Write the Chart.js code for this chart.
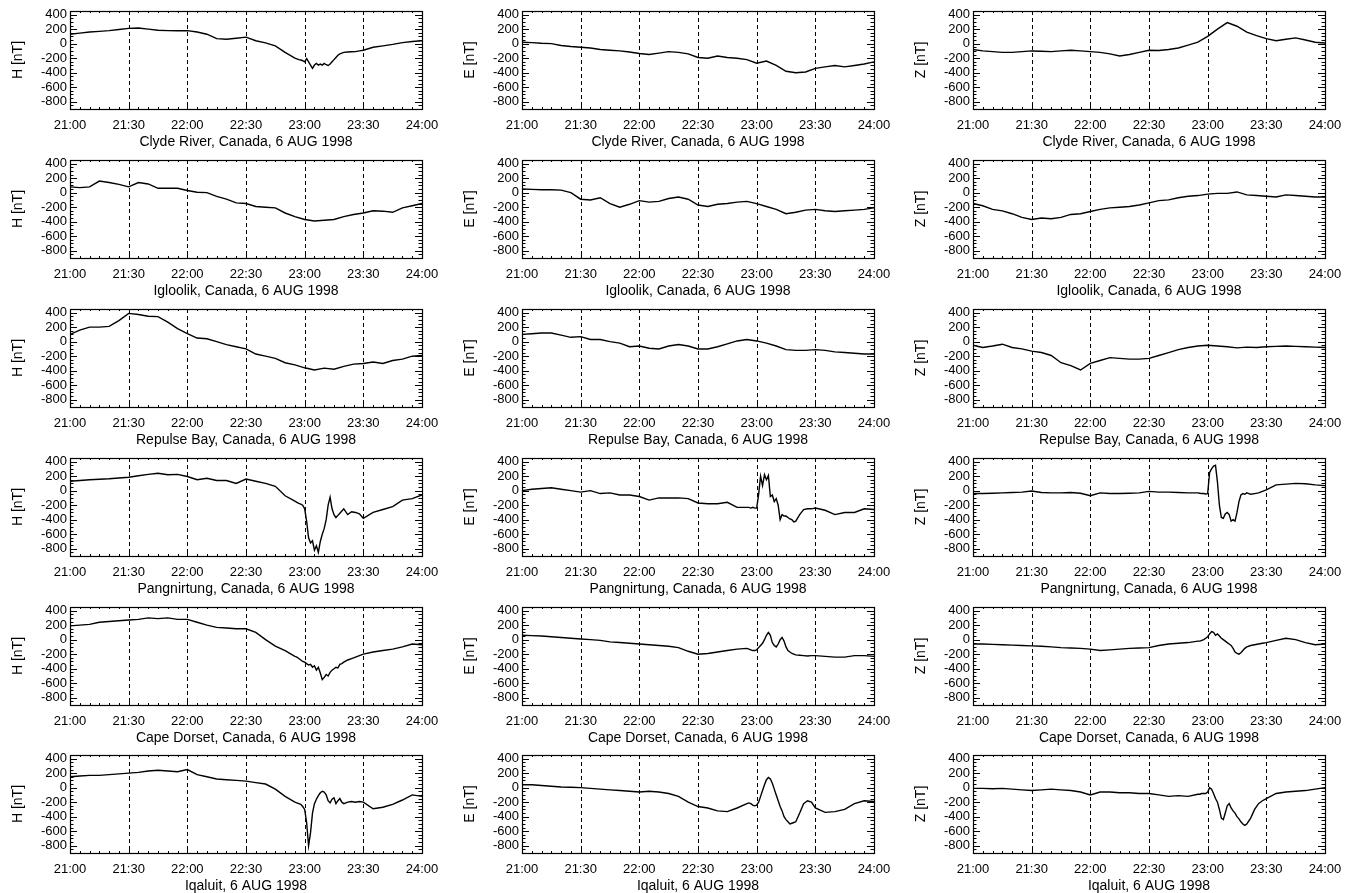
<!DOCTYPE html>
<html>
<head>
<meta charset="utf-8">
<script src="https://cdn.jsdelivr.net/npm/chart.js@4.4.0/dist/chart.umd.min.js"></script>
<style>
  body { margin: 0; background: #fff; }
  #page { position: relative; width: 1359px; height: 893px; overflow: hidden; }
  canvas { position: absolute; }
</style>
</head>
<body>
<div id="page"></div>
<script>
// axis ticks
const tickMinutes = [0, 30, 60, 90, 120, 150, 180];
const tickLabels = ["21:00", "21:30", "22:00", "22:30", "23:00", "23:30", "24:00"];
const dashedMinutes = [30, 60, 90, 120, 150];
const yTickValues = [400, 200, 0, -200, -400, -600, -800];
const yTickLabels = ["400", "200", "0", "-200", "-400", "-600", "-800"];

const stations = ["Clyde River, Canada", "Igloolik, Canada", "Repulse Bay, Canada",
                  "Pangnirtung, Canada", "Cape Dorset, Canada", "Iqaluit"];
const components = ["H", "E", "Z"];
const dateLabel = "6 AUG 1998";

// sample times, minutes after 21:00
const coarseMinutes = [0, 5, 10, 15, 20, 25, 30, 35, 40, 45, 50, 55, 60, 65, 70, 75, 80, 85, 90,
  95, 100, 105, 110, 115, 120, 125, 130, 135, 140, 145, 150, 155, 160, 165, 170, 175, 180];
const fineMinutes = [0, 5, 10, 15, 20, 25, 30, 35, 40, 45, 50, 55, 60, 65, 70, 75, 80, 85, 90,
  95, 100, 105, 110, 115,
  116, 117, 118, 119, 120, 121, 122, 123, 124, 125, 126, 127, 128, 129, 130,
  131, 132, 133, 134, 135, 136, 137, 138, 139, 140,
  142, 144, 146, 148, 150, 155, 160, 165, 170, 175, 180];

// nT values
const clydeH = [130, 145, 160, 170, 180, 195, 210, 215, 200, 185, 180, 178, 180, 160, 130, 70, 60, 75, 90, 40, 10, -30, -120, -200,
  -210, -220, -225, -235, -250, -205, -250, -295, -340, -295, -273, -295, -282, -295, -273,
  -290, -300, -280, -250, -220, -190, -160, -140, -130, -120,
  -115, -112, -110, -100, -90, -50, -30, -10, 15, 30, 40];
const clydeE = [20, 15, 5, 0, -25, -40, -50, -60, -80, -90, -100, -115, -135, -150, -130, -110, -120, -140, -190,
  -200, -170, -190, -200, -220, -270, -240, -300, -380, -400, -390, -340, -320, -300, -320, -300, -280, -250];
const clydeZ = [-80, -100, -110, -120, -120, -110, -100, -105, -110, -100, -90, -100, -110, -120, -140, -170, -150, -120, -90,
  -95, -80, -60, -20, 20, 100, 200, 290, 240, 160, 110, 70, 40, 60, 80, 50, 20, 10];

const iglH = [80, 70, 80, 160, 140, 115, 80, 140, 120, 60, 60, 60, 30, 5, 0, -50, -90, -140, -150,
  -190, -200, -210, -280, -330, -370, -390, -380, -370, -330, -300, -280, -250, -255, -270, -210, -180, -150];
const iglE = [50, 45, 40, 40, 35, 0, -90, -100, -70, -150, -200, -160, -110, -130, -120, -80, -60, -90, -170,
  -190, -160, -150, -130, -120, -150, -190, -230, -290, -270, -240, -230, -250, -260, -250, -240, -230, -210];
const iglZ = [-150, -180, -230, -250, -290, -340, -370, -350, -360, -340, -300, -290, -260, -230, -210, -200, -190, -170, -140,
  -110, -100, -70, -50, -40, -20, -10, -10, 10, -30, -40, -50, -60, -30, -40, -50, -60, -60];

const rpbH = [100, 160, 200, 200, 210, 290, 390, 375, 350, 345, 270, 180, 110, 50, 40, 0, -40, -70, -100,
  -170, -200, -230, -290, -320, -360, -390, -365, -380, -340, -310, -300, -280, -300, -260, -240, -200, -190];
const rpbE = [100, 110, 120, 120, 90, 60, 70, 30, 30, 0, -20, -70, -60, -90, -100, -60, -40, -60, -100,
  -100, -70, -30, 10, 30, 10, -20, -60, -110, -120, -120, -110, -120, -140, -150, -160, -170, -170];
const rpbZ = [-50, -80, -60, -35, -80, -100, -130, -150, -190, -290, -330, -390, -300, -260, -220, -230, -240, -240, -230,
  -190, -150, -110, -80, -60, -50, -60, -70, -85, -75, -80, -70, -65, -60, -65, -70, -75, -80];

const pngH = [130, 140, 150, 158, 165, 175, 185, 205, 225, 240, 220, 225, 195, 150, 170, 140, 140, 100, 160, 130, 100, 60, -70, -145,
  -160, -175, -185, -200, -250, -420, -650, -720, -690, -820, -760, -850, -700, -600, -520,
  -400, -200, -90, -250, -330, -370, -340, -310, -280, -250,
  -330, -290, -300, -320, -380, -300, -260, -220, -130, -110, -60];
const pngE = [0, 20, 30, 40, 20, 0, -20, 0, -40, -30, -60, -60, -80, -130, -100, -100, -100, -110, -170, -180, -180, -160, -230, -230,
  -230, -240, -230, -240, -240, -50, 200, 70, 220, 150, 210, -80, -60, -150, -110,
  -200, -400, -330, -350, -350, -370, -390, -400, -430, -420,
  -330, -260, -250, -250, -240, -270, -330, -300, -300, -250, -260];
const pngZ = [-40, -40, -35, -30, -25, -20, -5, -25, -30, -30, -25, -35, -70, -30, -40, -40, -35, -30, -10, -20, -20, -25, -30, -30,
  -35, -40, -40, -45, -40, 250, 300, 340, 350, 120, -200, -370, -380, -320, -300,
  -330, -420, -400, -420, -300, -150, -60, -40, -50, -30,
  -50, -40, -30, -10, 10, 80, 90, 100, 95, 80, 70];

const cdH = [190, 200, 210, 240, 250, 260, 270, 280, 300, 290, 300, 280, 280, 240, 200, 170, 160, 150, 150, 100, 0, -90, -150, -230,
  -240, -260, -280, -300, -310, -330, -350, -340, -380, -360, -420, -380, -460, -550, -520,
  -480, -500, -450, -420, -400, -380, -390, -340, -330, -310,
  -280, -260, -240, -220, -200, -170, -150, -130, -100, -60, -70];
const cdE = [60, 55, 50, 40, 30, 20, 10, 0, -10, -30, -40, -50, -60, -70, -80, -90, -110, -160, -200, -190, -170, -150, -130, -120,
  -130, -140, -150, -150, -140, -110, -80, -50, 0, 60, 100, 60, -40, -80, -100,
  -60, 0, 30, -20, -100, -150, -170, -190, -200, -210,
  -215, -220, -225, -220, -220, -230, -240, -240, -220, -220, -230];
const cdZ = [-60, -60, -65, -70, -75, -80, -85, -90, -100, -110, -115, -120, -130, -150, -140, -130, -120, -115, -110, -80, -60, -50, -40, -20,
  -20, -10, 0, 20, 40, 80, 110, 100, 60, 80, 50, 20, 0, -20, -40,
  -60, -80, -120, -170, -190, -200, -180, -150, -120, -100,
  -80, -70, -60, -50, -40, -10, 20, 0, -40, -70, -60];

const iqH = [150, 160, 170, 170, 180, 190, 200, 210, 230, 240, 230, 220, 250, 180, 150, 120, 110, 100, 90, 70, 50, -20, -120, -200,
  -210, -220, -230, -260, -300, -480, -800, -620, -350, -220, -160, -110, -70, -50, -60,
  -100, -180, -210, -160, -140, -220, -180, -150, -200, -220,
  -200, -190, -200, -190, -200, -290, -270, -230, -170, -100, -120];
const iqE = [40, 40, 30, 20, 10, 5, 0, -10, -20, -30, -40, -50, -60, -50, -60, -80, -120, -200, -260, -280, -320, -330, -280, -220,
  -210, -220, -240, -250, -240, -200, -120, -40, 40, 110, 140, 120, 60, -20, -100,
  -180, -260, -320, -400, -440, -470, -500, -490, -480, -470,
  -350, -220, -180, -200, -280, -340, -330, -300, -220, -180, -190];
const iqZ = [-10, -10, -15, -10, -20, -30, -40, -30, -20, -30, -40, -60, -100, -60, -60, -70, -70, -80, -80, -100, -120, -110, -120, -90,
  -90, -80, -80, -80, -60, 0, -20, -80, -150, -200, -300, -420, -440, -350, -250,
  -220, -280, -320, -350, -400, -430, -470, -500, -520, -500,
  -420, -300, -220, -180, -150, -80, -60, -50, -40, -20, 0];

const panels = [
  [[fineMinutes, clydeH], [coarseMinutes, clydeE], [coarseMinutes, clydeZ]],
  [[coarseMinutes, iglH], [coarseMinutes, iglE], [coarseMinutes, iglZ]],
  [[coarseMinutes, rpbH], [coarseMinutes, rpbE], [coarseMinutes, rpbZ]],
  [[fineMinutes, pngH], [fineMinutes, pngE], [fineMinutes, pngZ]],
  [[fineMinutes, cdH], [fineMinutes, cdE], [fineMinutes, cdZ]],
  [[fineMinutes, iqH], [fineMinutes, iqE], [fineMinutes, iqZ]]
];

// page layout (plot area corners)
const colLeft = [70, 522, 973];
const rowTop = [11, 160, 309, 458, 607, 755];
const plotW = 352, plotH = 98;
// room around the plot box, larger than Chart.js's own label padding
const padL = 66, padT = 14, padR = 32, padB = 42;

const fontFamily = "'Liberation Sans', Arial, sans-serif";
Chart.defaults.font.family = fontFamily;
Chart.defaults.color = "#000";

const framePlugin = {
  id: "frame",
  beforeDatasetsDraw(chart) {
    const { ctx, chartArea: a, scales: { x } } = chart;
    ctx.save();
    ctx.strokeStyle = "#000";
    ctx.lineWidth = 1;
    ctx.setLineDash([4, 3]);
    dashedMinutes.forEach(m => {
      const px = Math.round(x.getPixelForValue(m)) + 0.5;
      ctx.beginPath();
      ctx.moveTo(px, a.top);
      ctx.lineTo(px, a.bottom);
      ctx.stroke();
    });
    ctx.restore();
  },
  afterDraw(chart) {
    const { ctx, chartArea: a, scales: { x, y } } = chart;
    ctx.save();
    ctx.strokeStyle = "#000";
    ctx.lineWidth = 1;
    ctx.beginPath();
    // x ticks every 5 min, top and bottom
    for (let m = 0; m <= 180; m += 5) {
      const px = Math.round(x.getPixelForValue(m)) + 0.5;
      const len = m % 30 === 0 ? 4 : 2;
      ctx.moveTo(px, a.bottom); ctx.lineTo(px, a.bottom - len);
      ctx.moveTo(px, a.top); ctx.lineTo(px, a.top + len);
    }
    // y ticks every 50 nT, left and right
    for (let v = -900; v <= 450; v += 50) {
      const py = Math.round(y.getPixelForValue(v)) + 0.5;
      const len = v % 200 === 0 ? 7 : 3.5;
      ctx.moveTo(a.left, py); ctx.lineTo(a.left + len, py);
      ctx.moveTo(a.right, py); ctx.lineTo(a.right - len, py);
    }
    ctx.stroke();
    ctx.lineWidth = 1.2;
    ctx.strokeRect(Math.round(a.left) + 0.5, Math.round(a.top) + 0.5,
                   Math.round(a.right - a.left), Math.round(a.bottom - a.top));
    ctx.restore();
  }
};

const page = document.getElementById("page");

panels.forEach((row, r) => {
  row.forEach(([minutes, values], c) => {
    const canvas = document.createElement("canvas");
    canvas.width = plotW + padL + padR;
    canvas.height = plotH + padT + padB;
    canvas.style.left = (colLeft[c] - padL) + "px";
    canvas.style.top = (rowTop[r] - padT) + "px";
    page.appendChild(canvas);

    const points = minutes.map((m, i) => ({ x: m, y: values[i] }));

    new Chart(canvas, {
      type: "line",
      data: {
        datasets: [{
          data: points,
          borderColor: "#000",
          borderWidth: 1.4,
          pointRadius: 0,
          tension: 0,
          fill: false
        }]
      },
      options: {
        responsive: false,
        animation: false,
        events: [],
        layout: { padding: { left: 0, top: padT, right: padR, bottom: 0 } },
        plugins: { legend: { display: false }, tooltip: { enabled: false } },
        scales: {
          x: {
            type: "linear",
            min: 0,
            max: 180,
            afterBuildTicks: s => { s.ticks = tickMinutes.map(v => ({ value: v })); },
            afterFit: s => { s.height = padB; },
            grid: { display: false, drawTicks: false },
            border: { display: false },
            ticks: {
              autoSkip: false,
              maxRotation: 0,
              padding: 9,
              font: { size: 13 },
              callback: v => tickLabels[tickMinutes.indexOf(v)]
            },
            title: {
              display: true,
              text: stations[r] + ", " + dateLabel,
              font: { size: 14 },
              padding: { top: 0, bottom: 0 }
            }
          },
          y: {
            min: -900,
            max: 450,
            afterBuildTicks: s => { s.ticks = yTickValues.map(v => ({ value: v })); },
            afterFit: s => { s.width = padL; },
            grid: { display: false, drawTicks: false },
            border: { display: false },
            ticks: {
              autoSkip: false,
              padding: 3,
              font: { size: 13 },
              callback: v => yTickLabels[yTickValues.indexOf(v)]
            },
            title: {
              display: true,
              text: components[c] + " [nT]",
              font: { size: 14 },
              padding: { top: 6, bottom: 0 }
            }
          }
        }
      },
      plugins: [framePlugin]
    });
  });
});
</script>
</body>
</html>
